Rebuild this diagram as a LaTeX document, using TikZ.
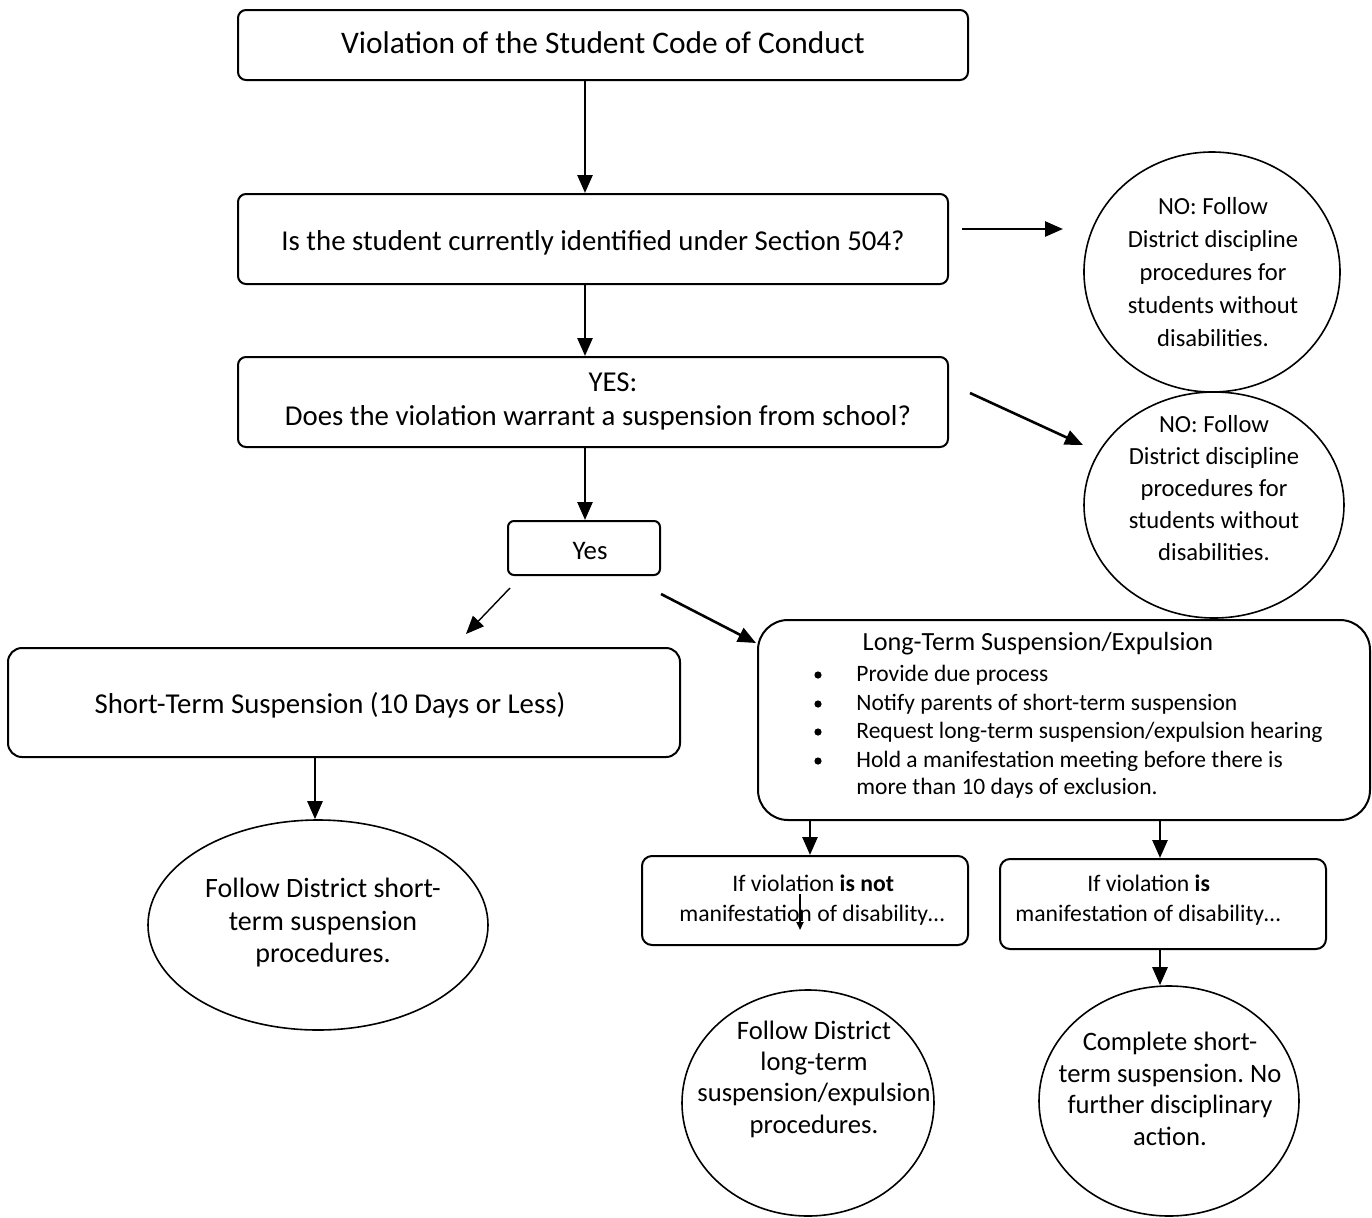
\documentclass[tikz,border=0pt]{standalone}
\usepackage{fontspec}
\setmainfont{Carlito}
\frenchspacing
\usetikzlibrary{arrows.meta,shapes.geometric}
\tikzset{
  box/.style={draw, line width=1pt, rounded corners=4pt, inner sep=0pt},
  oval/.style={draw, ellipse, line width=0.8pt, inner sep=0pt},
  arr/.style={line width=1.3pt, -{Triangle[length=9pt,width=7.5pt]}},
  txt/.style={inner sep=0pt, align=center},
  bl/.style={inner sep=0pt, anchor=west, font=\fontsize{11.75}{14}\selectfont, text height=8.5pt, text depth=2.5pt},
  vl/.style={inner sep=0pt, anchor=west, font=\fontsize{11.85}{14}\selectfont, text height=8.5pt, text depth=2.5pt},
  dot/.style={circle, fill, inner sep=0pt, minimum size=3.6pt}
}
\begin{document}
\begin{tikzpicture}[x=0.5pt,y=-0.5pt]
\useasboundingbox (0,0) rectangle (1372,1217);
% boxes
\node[box, minimum width=365pt, minimum height=35pt] (top) at (603,45) {};
\node[txt, font=\fontsize{15.7}{19}\selectfont] (topt) at (603,43) {Violation of the Student Code of Conduct};
\node[box, minimum width=355pt, minimum height=45pt] (q1) at (593,239) {};
\node[txt, font=\fontsize{14.4}{17}\selectfont] (q1t) at (593,243) {Is the student currently identified under Section 504?};
\node[box, minimum width=355pt, minimum height=45pt] (q2) at (593,402) {};
\node[txt, font=\fontsize{14.4}{17}\selectfont] (q2t) at (598,401) {\hspace*{15pt}YES:\\Does the violation warrant a suspension from school?};
\node[box, rounded corners=3pt, minimum width=76pt, minimum height=27pt] (yes) at (584,548) {};
\node[txt, font=\fontsize{13.4}{16}\selectfont] (yest) at (590,551) {Yes};
\node[box, rounded corners=7pt, minimum width=336pt, minimum height=54.5pt] (short) at (344,702.5) {};
\node[txt, font=\fontsize{14.4}{17}\selectfont] (shortt) at (330,705) {Short-Term Suspension (10 Days or Less)};
% long-term box
\node[box, rounded corners=15pt, minimum width=306pt, minimum height=100pt] (long) at (1064,720) {};
\node[txt, font=\fontsize{13.1}{16}\selectfont] (longt) at (1038,644) {Long-Term Suspension/Expulsion};
\node[dot] (d1) at (818,675) {};
\node[dot] (d2) at (818,704) {};
\node[dot] (d3) at (818,732) {};
\node[dot] (d4) at (818,761) {};
\node[bl] (b1) at (856,675) {Provide due process};
\node[bl] (b2) at (856,704) {Notify parents of short-term suspension};
\node[bl] (b3) at (856,732) {Request long-term suspension/expulsion hearing};
\node[bl] (b4) at (856,761) {Hold a manifestation meeting before there is};
\node[bl] (b5) at (856,788) {more than 10 days of exclusion.};
% manifestation boxes
\node[box, rounded corners=5pt, minimum width=163pt, minimum height=44.5pt] (nb) at (805,900.5) {};
\node[vl] (nb1) at (732,885) {If violation \textbf{is not}};
\node[vl] (nb2) at (679,915) {manifestation of disability…};
\node[box, rounded corners=5pt, minimum width=163pt, minimum height=45pt] (ib) at (1163,904) {};
\node[vl] (ib1) at (1087,885) {If violation \textbf{is}};
\node[vl] (ib2) at (1015,915) {manifestation of disability…};
% ellipses
\node[oval, minimum width=128pt, minimum height=120pt] (e1) at (1212,272) {};
\node[txt, font=\fontsize{12.3}{16.5}\selectfont] (e1t) at (1213,272) {NO: Follow\\District discipline\\procedures for\\students without\\disabilities.};
\node[oval, minimum width=130pt, minimum height=113pt] (e2) at (1214,505) {};
\node[txt, font=\fontsize{12.3}{16}\selectfont] (e2t) at (1214,488) {NO: Follow\\District discipline\\procedures for\\students without\\disabilities.};
\node[oval, minimum width=170pt, minimum height=105pt] (e3) at (318,925) {};
\node[txt, font=\fontsize{14}{16.25}\selectfont] (e3t) at (323,923) {Follow District short-\\term suspension\\procedures.};
\node[oval, minimum width=126pt, minimum height=113pt] (e4) at (808,1103) {};
\node[txt, font=\fontsize{13.3}{15.7}\selectfont] (e4t) at (814,1079) {Follow District\\long-term\\suspension/expulsion\\procedures.};
\node[oval, minimum width=130pt, minimum height=115pt] (e5) at (1169,1101) {};
\node[txt, font=\fontsize{13.3}{15.8}\selectfont] (e5t) at (1170,1089) {Complete short-\\term suspension. No\\further disciplinary\\action.};
% free arrow ends
\coordinate (c1a) at (962,229); \coordinate (c1b) at (1063,229);
\coordinate (c2a) at (970,393); \coordinate (c2b) at (1083,445);
\coordinate (c3a) at (510,588); \coordinate (c3b) at (466,634);
\coordinate (c4a) at (661,594); \coordinate (c4b) at (756,643);
\coordinate (c5a) at (800,894); \coordinate (c5b) at (800,930);
% connectors
\draw[arr] ([xshift=-9pt]top.south) -- ([xshift=-4pt]q1.north);
\draw[arr] ([xshift=-4pt]q1.south) -- ([xshift=-4pt]q2.north);
\draw[arr] ([xshift=-4pt]q2.south) -- ([xshift=0.5pt]yes.north);
\draw[arr] (c1a) -- (c1b);
\draw[arr] (c2a) -- (c2b);
\draw[arr, line width=0.7pt] (c3a) -- (c3b);
\draw[arr] (c4a) -- (c4b);
\draw[arr] ([xshift=-14.5pt]short.south) -- ([xshift=-1.5pt]e3.north);
\draw[arr] ([xshift=-127pt]long.south) -- ([xshift=2.5pt]nb.north);
\draw[arr] ([xshift=48pt]long.south) -- ([xshift=-1.5pt]ib.north);
\draw[arr] ([xshift=-1.5pt]ib.south) -- ([xshift=-4.5pt]e5.north);
\draw[line width=1pt, -{Triangle[length=4pt,width=3.5pt]}] (c5a) -- (c5b);
\end{tikzpicture}
\end{document}
